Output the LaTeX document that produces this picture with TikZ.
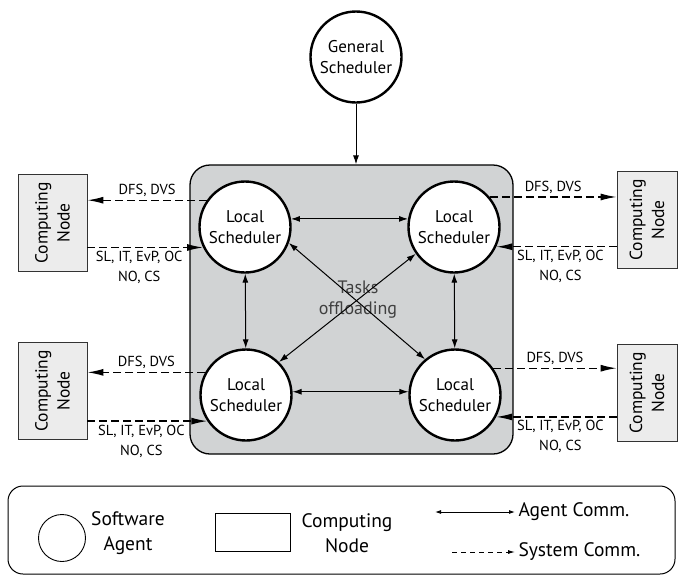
\documentclass[tikz,border=0pt]{standalone}
\usepackage{fontspec}
\setmainfont{PT Sans}
\usetikzlibrary{arrows.meta,positioning}
\definecolor{boxgray}{RGB}{209,211,212}
\definecolor{nodegray}{RGB}{236,236,236}
\tikzset{
	agent/.style={circle,draw,line width=2.4pt,fill=white,minimum size=91pt,inner sep=0pt,align=center,font=\fontsize{17}{21}\selectfont},
	compnode/.style={draw=black!80,fill=nodegray,line width=0.8pt,rotate=90,minimum width=97pt,minimum height=69pt,inner sep=0pt,align=center,font=\fontsize{17.5}{22}\selectfont},
	agcomm/.style={line width=1pt,{Latex[length=9pt,width=6pt]}-{Latex[length=9pt,width=6pt]}},
	syscomm/.style={line width=1.3pt,dash pattern=on 8pt off 4pt,-{Latex[length=16pt,width=7pt]}},
	lbl/.style={font=\fontsize{14.5}{20}\selectfont,align=center,inner sep=3pt},
	legtext/.style={font=\fontsize{19.5}{25}\selectfont,align=center}
}
\begin{document}
\begin{tikzpicture}[x=1pt,y=-1pt]
	\useasboundingbox (0,0) rectangle (678,576);
	\node[draw,fill=boxgray,line width=1.3pt,rounded corners=20pt,minimum width=323pt,minimum height=289pt] (cluster) at (351.5,309.5) {};
	\node[text=black!75,font=\fontsize{18}{21}\selectfont,align=center] (task) at (358,300) {Tasks\\offloading};
	\node[agent] (GS) at (356,57) {General\\Scheduler};
	\node[agent] (TL) at (245,227) {Local\\Scheduler};
	\node[agent] (TR) at (454,227) {Local\\Scheduler};
	\node[agent] (BL) at (246,395) {Local\\Scheduler};
	\node[agent] (BR) at (455,395) {Local\\Scheduler};
	\node[compnode] (CN1) at (52.5,223) {Computing\\Node};
	\node[compnode] (CN2) at (52.5,391) {Computing\\Node};
	\node[compnode,minimum height=60pt] (CN3) at (647,220) {Computing\\Node};
	\node[compnode,minimum height=60pt] (CN4) at (647,393) {Computing\\Node};
	\draw[line width=1pt,-{Latex[length=9pt,width=6pt]}] (GS) -- (GS |- cluster.north);
	\draw[agcomm] (TL.10) -- (TR.170);
	\draw[agcomm] (BL.4) -- (BR.176);
	\draw[agcomm] (TL) -- (BL);
	\draw[agcomm] (TR) -- (BR);
	\draw[agcomm] (TL.-20) -- (BR.130);
	\draw[agcomm] (TR.-145) -- (BL.45);
	\draw[syscomm] (TL.145) -- (TL.145 -| CN1.south) node[lbl,midway,above] {DFS, DVS};
	\draw[syscomm] (TL.206 -| CN1.south) -- (TL.206) node[lbl,midway,below,xshift=-6pt] {SL, IT, EvP, OC\\NO, CS};
	\draw[syscomm] (BL.151) -- (BL.151 -| CN2.south) node[lbl,midway,above] {DFS, DVS};
	\draw[syscomm] (BL.214 -| CN2.south) -- (BL.214) node[lbl,midway,below,xshift=-6pt] {SL, IT, EvP, OC\\NO, CS};
	\draw[syscomm] (TR.40) -- (TR.40 -| CN3.north) node[lbl,midway,above] {DFS, DVS};
	\draw[syscomm] (TR.-25 -| CN3.north) -- (TR.-25) node[lbl,midway,below,xshift=4pt] {SL, IT, EvP, OC\\NO, CS};
	\draw[syscomm] (BR.35) -- (BR.35 -| CN4.north) node[lbl,midway,above] {DFS, DVS};
	\draw[syscomm] (BR.-28 -| CN4.north) -- (BR.-28) node[lbl,midway,below,xshift=4pt] {SL, IT, EvP, OC\\NO, CS};
	\draw[line width=1pt,rounded corners=15pt] (8,486) rectangle (675,574);
	\node[circle,draw,line width=0.9pt,minimum size=47pt] (lagent) at (62,538) {};
	\node[legtext] (lagtext) at (128,533) {Software\\Agent};
	\node[draw,line width=0.9pt,minimum width=75pt,minimum height=38pt] (lnode) at (252.5,532) {};
	\node[legtext] (lnodetext) at (347,533) {Computing\\Node};
	\coordinate (la) at (435,512);
	\node[legtext,anchor=west] (lac) at (515,512) {Agent Comm.};
	\draw[line width=0.9pt,{Latex[length=6pt,width=4pt]}-{Latex[length=6pt,width=4pt]}] (la) -- (lac.west);
	\coordinate (ls) at (452,552);
	\node[legtext,anchor=west] (lsc) at (515,552) {System Comm.};
	\draw[line width=0.9pt,dash pattern=on 5pt off 4pt,-{Latex[length=7pt,width=4pt]}] (ls) -- (lsc.west);
\end{tikzpicture}
\end{document}
